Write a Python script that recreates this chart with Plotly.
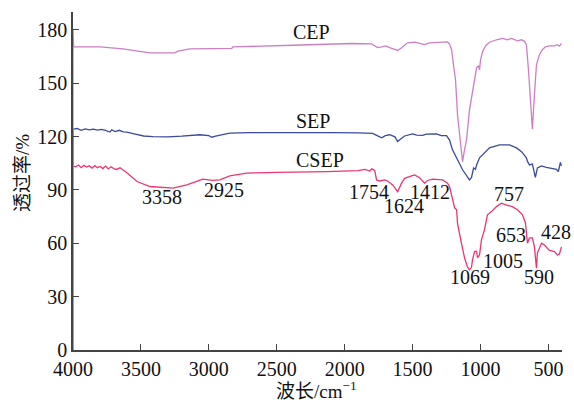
import plotly.graph_objects as go

# ---------------- data (wavenumber cm^-1, transmittance %) ----------------
cep_x = [4000, 4000, 3995, 3800, 3632, 3434, 3250, 3228, 3140, 2831, 2824, 2382, 1949,
         1802, 1757, 1728, 1699, 1669, 1640, 1610, 1581, 1537, 1485, 1434, 1412, 1375,
         1301, 1243, 1228, 1213, 1199, 1184, 1169, 1154, 1140, 1132, 1118, 1103, 1081,
         1059, 1044, 1029, 1015, 1007, 1000, 985, 963, 934, 882, 838, 802, 772, 728,
         698, 676, 662, 647, 632, 618, 603, 588, 566, 545, 522, 493, 456, 434, 419, 404]
cep_y = [105, 180, 170.4, 170.4, 169.3, 167, 167, 168, 169.3, 169.6, 170.4, 171.3, 172.3,
         172.1, 170, 170.4, 170.9, 170, 169.3, 168.4, 169.9, 172.7, 173, 171.8, 171.7, 172.7,
         173.2, 173.2, 172, 168.8, 160.3, 151.9, 132, 122, 109.7, 105.8, 112.5, 118, 135,
         146, 152, 158.6, 159.8, 157.5, 163, 167.6, 171, 173, 174.4, 175.2, 174.4, 175.2, 173.8,
         174.4, 173.5, 171.6, 157.5, 140.6, 124.3, 143.4, 160.3, 166, 168.8, 170.4, 171, 171, 171.6, 170.8, 172.4]

sep_x = [4000, 4000, 3970, 3940, 3910, 3880, 3850, 3820, 3790, 3760, 3728, 3715, 3690,
         3660, 3630, 3603, 3550, 3480, 3412, 3300, 3200, 3066, 3000, 2978, 2950, 2846,
         2700, 2400, 2100, 1900, 1816, 1794, 1757, 1728, 1700, 1669, 1630, 1610, 1590,
         1559, 1500, 1470, 1426, 1400, 1324, 1290, 1250, 1228, 1206, 1176, 1132, 1081,
         1066, 1051, 1037, 1029, 1007, 934, 860, 787, 735, 698, 662, 654, 640, 618,
         596, 581, 551, 515, 478, 441, 427, 412, 404]
sep_y = [104, 124.1, 124.5, 123.5, 124.3, 123.8, 124.2, 123.6, 124, 123.5, 122.5, 123.8, 122.8,
         123.5, 122.6, 122.5, 121.5, 120.3, 120, 119.8, 120.2, 121, 120.5, 119.6, 120.2, 121.9,
         122.2, 122.4, 122.2, 122, 122.1, 121.8, 120.4, 119.3, 120.5, 121, 119.8, 117.2, 118.5,
         120.3, 121.5, 120.8, 120.6, 121.3, 121.5, 120.5, 120.5, 118, 112.5, 108, 101.3, 95.6,
         97, 102.4, 101.5, 104, 108, 113.6, 115.3, 115.3, 113.6, 111.5, 108, 106, 104, 104.5,
         97, 102.4, 103.5, 102.7, 102, 101.6, 100.3, 105.4, 103.5]

csep_x = [4000, 4000, 3980, 3960, 3940, 3920, 3900, 3880, 3860, 3840, 3820, 3800, 3780,
          3760, 3740, 3720, 3700, 3680, 3654, 3603, 3529, 3434, 3265, 3162, 3044, 2971,
          2919, 2846, 2721, 2500, 2132, 2000, 1900, 1850, 1816, 1800, 1779, 1765, 1743,
          1706, 1684, 1647, 1610, 1581, 1559, 1507, 1485, 1449, 1412, 1390, 1353, 1279,
          1243, 1228, 1206, 1191, 1176, 1169, 1140, 1118, 1096, 1081, 1066, 1059, 1044,
          1029, 1022, 1007, 993, 971, 949, 919, 882, 846, 809, 765, 728, 691, 669, 654,
          640, 618, 603, 588, 581, 551, 529, 493, 456, 434, 419, 404]
csep_y = [0, 103.5, 103, 104, 102.5, 103.8, 102.8, 103.5, 102.2, 103.6, 102.5, 103.2, 102,
          103.4, 101.8, 103, 102, 101.5, 102.4, 99.6, 94.7, 91.9, 91, 92.8, 96, 95.3,
          95.6, 97.9, 99.4, 99.9, 100.3, 100.5, 100.8, 101.5, 100.6, 101.8, 100.9, 95.6, 95,
          95.6, 95, 92.8, 89, 93.8, 96.5, 97.9, 98.4, 96.8, 93.8, 95.3, 96, 95.6,
          93.8, 91.9, 84.4, 80, 78.8, 71, 60, 52, 46.7, 45, 46.5, 50.6, 55.3,
          55.5, 51.8, 53.5, 61.9, 67.5, 76, 77.8, 80.6, 82.5, 81.5, 80.6, 78.8, 76, 71.4, 60,
          63, 63, 58, 46, 54.5, 60, 59, 56, 55.3, 53.4, 54, 58]

series_names = ["CEP", "SEP", "CSEP"]
series_colors = ["#cc7fc4", "#3b4a9c", "#ec3572"]

peak_labels = ["3358", "2925", "1754", "1624", "1412", "757", "653", "1005", "1069", "590", "428"]
peak_label_x = [3346, 2890, 1824, 1566, 1375, 787, 772, 838, 1074, 566, 441]
peak_label_y = [85.8, 90, 88.6, 80.7, 88.6, 87.5, 64.4, 50.3, 40.8, 40.8, 66.1]

name_label_x = [2243, 2235, 2184]
name_label_y = [178.6, 128.8, 106.6]

x_ticks = [4000, 3500, 3000, 2500, 2000, 1500, 1000, 500]
y_ticks = [0, 30, 60, 90, 120, 150, 180]

# ---------------- figure ----------------
FONT = "Liberation Serif, Times New Roman, Noto Sans CJK SC, serif"
FS = 20
fig = go.Figure()
for xs, ys, nm, col in [(csep_x, csep_y, series_names[2], series_colors[2]),
                        (sep_x, sep_y, series_names[1], series_colors[1]),
                        (cep_x, cep_y, series_names[0], series_colors[0])]:
    fig.add_trace(go.Scatter(x=xs, y=ys, mode="lines", name=nm,
                             line=dict(color=col, width=1.3), showlegend=False))

for t, x, y in zip(series_names, name_label_x, name_label_y):
    fig.add_annotation(x=x, y=y, xref="x", yref="y", text=t, showarrow=False,
                       xanchor="center", yanchor="middle",
                       font=dict(family=FONT, size=FS, color="#111"))
for t, x, y in zip(peak_labels, peak_label_x, peak_label_y):
    fig.add_annotation(x=x, y=y, xref="x", yref="y", text=t, showarrow=False,
                       xanchor="center", yanchor="middle",
                       font=dict(family=FONT, size=FS, color="#111"))

fig.add_annotation(xref="paper", yref="paper", x=-0.102, y=0.524, text="透过率/%",
                   textangle=-90, showarrow=False, xanchor="center", yanchor="middle",
                   font=dict(family=FONT, size=19, color="#111"))
fig.add_annotation(xref="paper", yref="paper", x=0.497, y=-0.118, text="波长/cm<sup>−1</sup>",
                   showarrow=False, xanchor="center", yanchor="middle",
                   font=dict(family=FONT, size=19, color="#111"))

axis_common = dict(showgrid=False, zeroline=False, showline=True, linecolor="#444",
                   linewidth=1.6, ticks="inside", ticklen=6, tickwidth=1.4, tickcolor="#444",
                   tickfont=dict(family=FONT, size=FS, color="#111"))
fig.update_xaxes(range=[4000, 400], tickvals=x_ticks, ticktext=[str(v) for v in x_ticks],
                 **axis_common)
fig.update_yaxes(range=[0, 190], tickvals=y_ticks, ticktext=[str(v) for v in y_ticks],
                 **axis_common)
fig.update_layout(width=574, height=400, margin=dict(l=73, r=12, t=12, b=50),
                  plot_bgcolor="white", paper_bgcolor="white")

fig.write_html("out.html")
